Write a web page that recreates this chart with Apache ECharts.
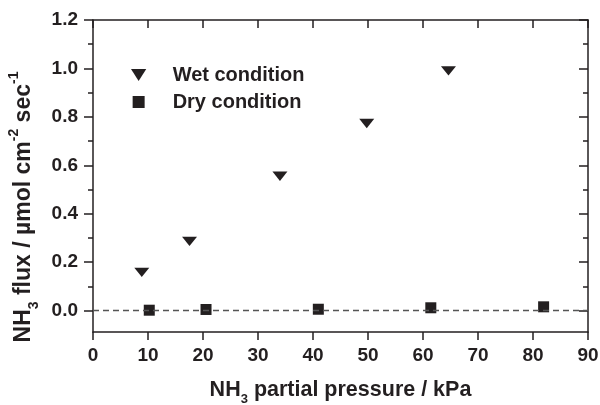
<!DOCTYPE html>
<html>
<head>
<meta charset="utf-8">
<script src="https://cdn.jsdelivr.net/npm/echarts@6/dist/echarts.min.js"></script>
<style>
html,body{margin:0;padding:0;background:#fff;}
#chart{width:600px;height:405px;}
</style>
</head>
<body>
<div id="chart"></div>
<script>
// ---- data ----
const seriesNames = ['Wet condition', 'Dry condition'];
const wetX = [8.87, 17.55, 33.99, 49.77, 64.63];
const wetY = [0.158, 0.286, 0.555, 0.773, 0.990];
const dryX = [10.23, 20.55, 40.97, 61.42, 81.93];
const dryY = [0.002, 0.005, 0.006, 0.012, 0.016];
const xTicks = [0, 10, 20, 30, 40, 50, 60, 70, 80, 90];
const yTicks = [0, 0.2, 0.4, 0.6, 0.8, 1.0, 1.2];
const yMinorTicks = [0.1, 0.3, 0.5, 0.7, 0.9, 1.1];
const xTitle = 'NH{sub|3} partial pressure / kPa';
const yTitle = 'NH{sub|3} flux / µmol cm{sup|-2} sec{sup|-1}';

// ---- chart ----
const FONT = 'Arial, "Liberation Sans", Helvetica, sans-serif';
const INK = '#231f20';
const X_MIN = 0, X_MAX = 90, Y_MIN = -0.088, Y_MAX = 1.2;
const TRI = 'path://M0,0L14,0L7,11Z';
const SQR = 'path://M0,0L10,0L10,10L0,10Z';

function richFor(size) {
  return {
    sub: {fontSize: size, fontWeight: 'bold', fontFamily: FONT, color: INK, verticalAlign: 'bottom', lineHeight: size},
    sup: {fontSize: size, fontWeight: 'bold', fontFamily: FONT, color: INK, verticalAlign: 'top', lineHeight: size}
  };
}

const axisLineStyle = {color: INK, width: 1.5};

function yAxisDef(pos, ticks, len, inside, showLine, showLabel) {
  return {
    type: 'value', position: pos, min: Y_MIN, max: Y_MAX,
    axisLine: {show: showLine, onZero: false, lineStyle: axisLineStyle},
    axisTick: {show: true, inside: inside, length: len, customValues: ticks, lineStyle: {color: INK, width: 1.5}},
    axisLabel: showLabel ? {
      show: true, customValues: ticks, margin: 15,
      formatter: v => Number(v).toFixed(1),
      fontSize: 19, fontWeight: 'bold', fontFamily: FONT, color: INK
    } : {show: false},
    splitLine: {show: false}
  };
}

const yAxes = [
  yAxisDef('left', yTicks, 9, false, true, true),
  yAxisDef('left', yMinorTicks, 5, false, false, false),
  yAxisDef('right', yTicks, 9, true, true, false),
  yAxisDef('right', yMinorTicks, 5, true, false, false)
];
yAxes[0].name = yTitle;
yAxes[0].nameLocation = 'middle';
yAxes[0].nameGap = 43;
yAxes[0].nameTextStyle = {fontSize: 23, fontWeight: 'bold', fontFamily: FONT, color: INK, lineHeight: 34, padding: [0, 62, 0, 0], rich: richFor(14)};

const chart = echarts.init(document.getElementById('chart'), null, {renderer: 'canvas'});
chart.setOption({
  animation: false,
  backgroundColor: '#fff',
  grid: {left: 93, right: 12, top: 20, bottom: 73, containLabel: false, outerBoundsMode: 'none'},
  legend: {
    orient: 'vertical', left: 126, top: 60,
    itemWidth: 58, itemHeight: 12, itemGap: 7,
    data: seriesNames,
    textStyle: {fontSize: 20, fontWeight: 'bold', fontFamily: FONT, color: INK},
    selectedMode: false
  },
  xAxis: [
    {
      type: 'value', position: 'bottom', min: X_MIN, max: X_MAX, interval: 10,
      name: xTitle, nameLocation: 'middle', nameGap: 42,
      nameTextStyle: {fontSize: 21.5, fontWeight: 'bold', fontFamily: FONT, color: INK, lineHeight: 32, rich: richFor(13)},
      axisLine: {onZero: false, lineStyle: axisLineStyle},
      axisTick: {inside: false, length: 8, lineStyle: {color: INK, width: 1.5}},
      axisLabel: {margin: 14, fontSize: 19, fontWeight: 'bold', fontFamily: FONT, color: INK,
        formatter: v => (xTicks.indexOf(v) >= 0 ? String(v) : '')},
      splitLine: {show: false}
    },
    {
      type: 'value', position: 'top', min: X_MIN, max: X_MAX, interval: 10,
      axisLine: {onZero: false, lineStyle: axisLineStyle},
      axisTick: {inside: true, length: 8, lineStyle: {color: INK, width: 1.5}},
      axisLabel: {show: false},
      splitLine: {show: false}
    }
  ],
  yAxis: yAxes,
  series: [
    {
      name: seriesNames[0], type: 'scatter', xAxisIndex: 0, yAxisIndex: 0,
      symbol: TRI, symbolSize: [15, 12], symbolKeepAspect: true,
      itemStyle: {color: INK, opacity: 1},
      data: wetX.map((x, i) => [x, wetY[i]])
    },
    {
      name: seriesNames[1], type: 'scatter', xAxisIndex: 0, yAxisIndex: 0,
      symbol: SQR, symbolSize: 11,
      itemStyle: {color: INK, opacity: 1},
      data: dryX.map((x, i) => [x, dryY[i]]),
      markLine: {
        silent: true, symbol: ['none', 'none'],
        label: {show: false},
        lineStyle: {type: [6, 4], color: '#555', width: 1.3},
        data: [{yAxis: 0}]
      }
    }
  ]
});
</script>
</body>
</html>
